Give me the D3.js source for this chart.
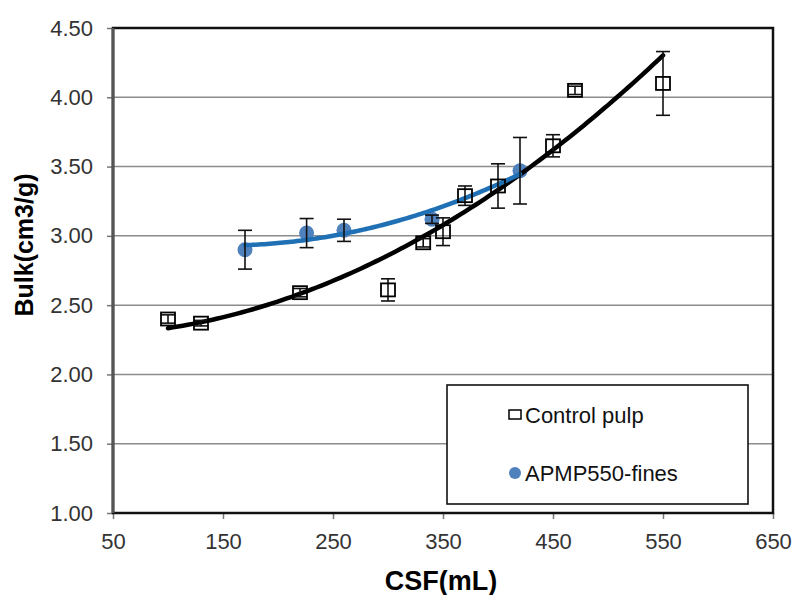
<!DOCTYPE html>
<html>
<head>
<meta charset="utf-8">
<script src="https://cdn.jsdelivr.net/npm/d3@7"></script>
<style>
  html, body { margin: 0; padding: 0; background: #fff; }
  svg { display: block; font-family: "Liberation Sans", Arial, sans-serif; }
</style>
</head>
<body>
<div id="chart"></div>
<script>
// Control pulp
const controlCsf  = [100, 130, 220, 300, 332, 350, 370, 400, 450, 470, 550];
const controlBulk = [2.40, 2.37, 2.59, 2.61, 2.95, 3.03, 3.29, 3.36, 3.65, 4.05, 4.10];
const controlErr  = [0.03, 0.02, 0.03, 0.08, 0.03, 0.10, 0.07, 0.16, 0.08, 0.03, 0.23];
// APMP550-fines
const finesCsf  = [170, 226, 260, 340, 420];
const finesBulk = [2.90, 3.02, 3.04, 3.12, 3.47];
const finesErr  = [0.14, 0.105, 0.08, 0.03, 0.24];

const xTicks = [50, 150, 250, 350, 450, 550, 650];
const yTicks = [1.00, 1.50, 2.00, 2.50, 3.00, 3.50, 4.00, 4.50];
const seriesNames = ["Control pulp", "APMP550-fines"];

// least squares 2nd order polynomial (what the spreadsheet trendline does)
function polyFit2(xs, ys) {
  const n = xs.length;
  let s = [0, 0, 0, 0, 0], t = [0, 0, 0];
  for (let i = 0; i < n; i++) {
    let p = 1;
    for (let k = 0; k <= 4; k++) { s[k] += p; if (k <= 2) t[k] += p * ys[i]; p *= xs[i]; }
  }
  const M = [[s[0], s[1], s[2], t[0]], [s[1], s[2], s[3], t[1]], [s[2], s[3], s[4], t[2]]];
  for (let c = 0; c < 3; c++) {
    for (let r = c + 1; r < 3; r++) {
      const f = M[r][c] / M[c][c];
      for (let k = c; k < 4; k++) M[r][k] -= f * M[c][k];
    }
  }
  const a = [0, 0, 0];
  for (let r = 2; r >= 0; r--) {
    let v = M[r][3];
    for (let k = r + 1; k < 3; k++) v -= M[r][k] * a[k];
    a[r] = v / M[r][r];
  }
  return x => a[0] + a[1] * x + a[2] * x * x;
}

const width = 793, height = 595;
const margin = { top: 28, right: 20, bottom: 82, left: 113 };
const innerW = width - margin.left - margin.right;
const innerH = height - margin.top - margin.bottom;

const svg = d3.select("#chart").append("svg")
  .attr("width", width).attr("height", height);
svg.append("rect").attr("width", width).attr("height", height).attr("fill", "#fff");

const g = svg.append("g").attr("transform", `translate(${margin.left},${margin.top})`);

const x = d3.scaleLinear().domain([50, 650]).range([0, innerW]);
const y = d3.scaleLinear().domain([1, 4.5]).range([innerH, 0]);

// grid
g.append("g").selectAll("line")
  .data(yTicks.slice(1, -1))
  .join("line")
  .attr("x1", 0).attr("x2", innerW)
  .attr("y1", d => y(d)).attr("y2", d => y(d))
  .attr("stroke", "#8c8c8c").attr("stroke-width", 1.5);

// axes
const yAxis = g.append("g")
  .call(d3.axisLeft(y).tickValues(yTicks).tickFormat(d3.format(".2f")).tickSize(6).tickPadding(14));
const xAxis = g.append("g")
  .attr("transform", `translate(0,${innerH})`)
  .call(d3.axisBottom(x).tickValues(xTicks).tickSize(6).tickPadding(14));
[yAxis, xAxis].forEach(a => {
  a.select(".domain").remove();
  a.selectAll(".tick line").attr("stroke", "#777").attr("stroke-width", 1.5);
  a.selectAll(".tick text").attr("fill", "#333").style("font-size", "22px")
    .style("font-family", "'Liberation Sans', Arial, sans-serif");
});

// frame
g.append("rect").attr("width", innerW).attr("height", innerH)
  .attr("fill", "none").attr("stroke", "#111").attr("stroke-width", 2.5);
g.append("line").attr("x1", 0).attr("x2", 0).attr("y1", 0).attr("y2", innerH)
  .attr("stroke", "#555").attr("stroke-width", 3);

const line = d3.line().x(d => x(d[0])).y(d => y(d[1])).curve(d3.curveLinear);

// trendlines
function trend(xs, ys, color) {
  const f = polyFit2(xs, ys);
  const lo = d3.min(xs), hi = d3.max(xs);
  const pts = d3.range(0, 101).map(i => { const v = lo + (hi - lo) * i / 100; return [v, f(v)]; });
  g.append("path").datum(pts).attr("d", line)
    .attr("fill", "none").attr("stroke", color).attr("stroke-width", 4.5)
    .attr("stroke-linecap", "round");
}

const control = controlCsf.map((c, i) => ({ x: c, y: controlBulk[i], e: controlErr[i] }));
const fines = finesCsf.map((c, i) => ({ x: c, y: finesBulk[i], e: finesErr[i] }));

// fines circles under the lines
g.selectAll("circle.fines").data(fines).join("circle")
  .attr("class", "fines")
  .attr("cx", d => x(d.x)).attr("cy", d => y(d.y)).attr("r", 7.5)
  .attr("fill", "#4f81bd");

trend(controlCsf, controlBulk, "#000");
trend(finesCsf, finesBulk, "#1f70b5");

// error bars
function errBars(data, cls) {
  const eb = g.selectAll("g." + cls).data(data).join("g").attr("class", cls)
    .attr("stroke", "#111").attr("stroke-width", 1.6);
  eb.append("line").attr("x1", d => x(d.x)).attr("x2", d => x(d.x))
    .attr("y1", d => y(d.y + d.e)).attr("y2", d => y(d.y - d.e));
  eb.append("line").attr("x1", d => x(d.x) - 7).attr("x2", d => x(d.x) + 7)
    .attr("y1", d => y(d.y + d.e)).attr("y2", d => y(d.y + d.e));
  eb.append("line").attr("x1", d => x(d.x) - 7).attr("x2", d => x(d.x) + 7)
    .attr("y1", d => y(d.y - d.e)).attr("y2", d => y(d.y - d.e));
}
errBars(control, "eb-control");
errBars(fines, "eb-fines");

// control squares
g.selectAll("rect.ctrl").data(control).join("rect")
  .attr("class", "ctrl")
  .attr("x", d => x(d.x) - 7).attr("y", d => y(d.y) - 6.5)
  .attr("width", 14).attr("height", 13)
  .attr("fill", "none").attr("stroke", "#000").attr("stroke-width", 1.8);

// axis titles
svg.append("text")
  .attr("x", margin.left + x(350) - 2).attr("y", 590)
  .attr("text-anchor", "middle")
  .style("font-size", "27px").style("font-weight", "bold")
  .text("CSF(mL)");
svg.append("text")
  .attr("transform", "translate(33,245) rotate(-90)")
  .attr("text-anchor", "middle")
  .style("font-size", "25px").style("font-weight", "bold")
  .text("Bulk(cm3/g)");

// legend
const lg = svg.append("g").attr("transform", "translate(447,385)");
lg.append("rect").attr("width", 301).attr("height", 119)
  .attr("fill", "#fff").attr("stroke", "#111").attr("stroke-width", 1.6);
lg.append("rect").attr("x", 62).attr("y", 25).attr("width", 12).attr("height", 9)
  .attr("fill", "none").attr("stroke", "#000").attr("stroke-width", 1.5);
lg.append("circle").attr("cx", 68).attr("cy", 88).attr("r", 6).attr("fill", "#4f81bd");
lg.selectAll("text.lbl").data(seriesNames).join("text")
  .attr("class", "lbl")
  .attr("x", 78).attr("y", (d, i) => 38 + i * 58)
  .attr("fill", "#111")
  .style("font-size", "22px")
  .text(d => d);
</script>
</body>
</html>
